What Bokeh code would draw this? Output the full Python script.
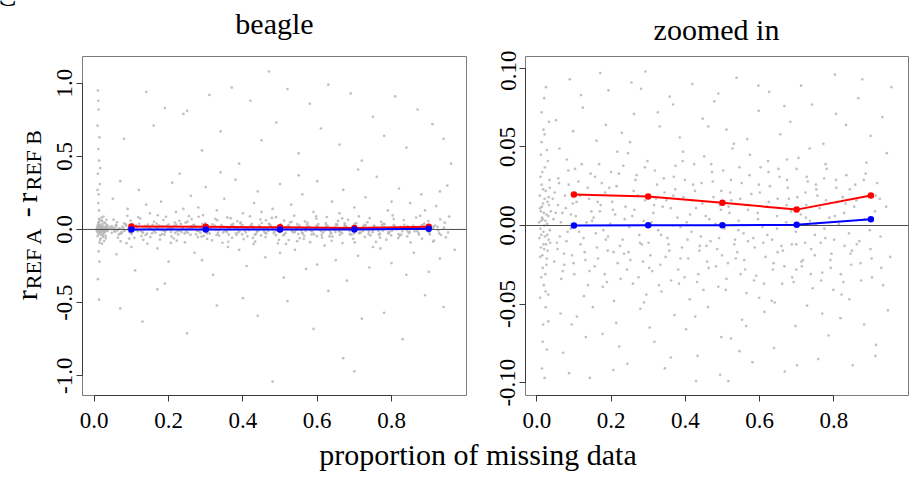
from bokeh.plotting import figure
from bokeh.layouts import row, column
from bokeh.models import Range1d, FixedTicker, NumeralTickFormatter, Span
from bokeh.core.properties import value
from bokeh.embed import file_html
from bokeh.resources import INLINE
import math

FONT = "Liberation Serif"

# ---- data ----
x_bins = [0.1, 0.3, 0.5, 0.7, 0.9]
ref_a_red = [0.0197, 0.0184, 0.0145, 0.0101, 0.0191]
ref_b_blue = [0.0000, 0.0001, 0.0002, 0.0004, 0.0040]

x_ticks = [0.0, 0.2, 0.4, 0.6, 0.8]
full_y_ticks = [-1.0, -0.5, 0.0, 0.5, 1.0]
zoom_y_ticks = [-0.10, -0.05, 0.0, 0.05, 0.10]

panel_titles = ["beagle", "zoomed in"]
x_label = "proportion of missing data"
y_label_parts = ["r", "REF A", "-", "r", "REF B"]

# background cloud of per-locus differences (hand-estimated positions)
cloud_pts = [
    # dense strip near zero missingness
    (0.012,0.003),(0.018,-0.004),(0.009,0.011),(0.025,-0.012),(0.031,0.006),(0.015,-0.019),(0.021,0.017),(0.007,-0.008),(0.028,0.001),(0.035,-0.003),
    (0.011,-0.014),(0.019,0.008),(0.024,0.022),(0.016,-0.027),(0.033,0.013),(0.008,0.019),(0.027,-0.021),(0.014,0.005),(0.022,-0.007),(0.038,0.009),
    (0.010,-0.002),(0.017,0.014),(0.029,-0.016),(0.013,0.026),(0.023,-0.031),(0.036,-0.011),(0.006,0.002),(0.020,0.000),(0.032,0.018),(0.026,-0.025),
    (0.015,0.034),(0.019,-0.038),(0.011,0.045),(0.024,-0.052),(0.030,0.041),(0.017,-0.063),(0.013,0.072),(0.027,-0.079),(0.021,0.058),(0.009,-0.046),
    (0.034,0.029),(0.012,-0.033),(0.018,0.061),(0.025,0.088),(0.014,-0.091),(0.031,-0.044),(0.022,0.037),(0.016,0.004),(0.028,-0.006),(0.011,0.009),
    (0.014,0.012),(0.020,-0.015),(0.026,0.007),(0.009,-0.020),(0.032,-0.009),(0.017,0.023),(0.023,0.003),(0.029,0.015),(0.012,-0.006),(0.035,0.024),
    (0.018,-0.012),(0.024,-0.042),(0.013,0.053),(0.031,-0.061),(0.020,0.081),(0.010,0.031),(0.027,0.048),(0.016,-0.074),(0.033,0.066),(0.021,-0.097),
    # core band
    (0.045,0.004),(0.062,-0.007),(0.078,0.011),(0.091,-0.002),(0.105,0.006),(0.118,-0.012),(0.134,0.002),(0.147,0.009),(0.159,-0.005),(0.172,0.013),
    (0.186,-0.009),(0.198,0.001),(0.211,0.007),(0.224,-0.013),(0.237,0.004),(0.249,-0.001),(0.263,0.010),(0.276,-0.006),(0.288,0.003),(0.301,-0.011),
    (0.314,0.008),(0.327,-0.003),(0.339,0.012),(0.352,-0.008),(0.366,0.000),(0.379,0.005),(0.391,-0.014),(0.404,0.002),(0.417,-0.004),(0.429,0.011),
    (0.442,-0.007),(0.455,0.006),(0.468,-0.010),(0.481,0.001),(0.493,0.013),(0.506,-0.002),(0.519,0.008),(0.532,-0.012),(0.544,0.003),(0.557,-0.005),
    (0.569,0.010),(0.583,-0.008),(0.596,0.004),(0.608,-0.001),(0.621,0.012),(0.634,-0.009),(0.647,0.006),(0.659,-0.013),(0.672,0.002),(0.685,0.009),
    (0.698,-0.004),(0.711,0.007),(0.723,-0.011),(0.736,0.003),(0.749,-0.006),(0.762,0.011),(0.775,-0.002),(0.788,0.005),(0.801,-0.009),(0.814,0.001),
    (0.828,0.008),(0.841,-0.005),(0.855,0.012),(0.869,-0.010),(0.883,0.004),(0.897,-0.003),(0.911,0.009),(0.926,-0.007),(0.054,-0.011),(0.069,0.008),
    (0.083,-0.004),(0.097,0.014),(0.126,-0.008),(0.153,0.005),(0.179,-0.003),(0.205,0.010),(0.231,-0.009),(0.257,0.006),(0.283,-0.012),(0.309,0.002),
    (0.335,-0.006),(0.361,0.011),(0.387,-0.001),(0.413,0.007),(0.439,-0.013),(0.465,0.004),(0.491,-0.008),(0.517,0.012),(0.543,-0.003),(0.569,-0.010),
    (0.595,0.008),(0.621,-0.006),(0.647,-0.002),(0.673,0.013),(0.699,-0.012),(0.725,0.005),(0.751,0.001),(0.777,-0.008),(0.803,0.006),(0.829,-0.013),
    # middle band
    (0.048,0.021),(0.066,-0.034),(0.081,0.042),(0.095,-0.019),(0.112,0.028),(0.127,-0.045),(0.141,0.017),(0.156,-0.026),(0.168,0.039),(0.183,-0.031),
    (0.195,0.024),(0.208,-0.048),(0.221,0.033),(0.235,-0.018),(0.246,0.046),(0.259,-0.037),(0.272,0.019),(0.286,-0.023),(0.298,0.041),(0.311,-0.029),
    (0.324,0.026),(0.336,-0.042),(0.349,0.016),(0.362,-0.035),(0.374,0.038),(0.387,-0.021),(0.399,0.029),(0.412,-0.047),(0.426,0.022),(0.438,-0.016),
    (0.451,0.044),(0.463,-0.027),(0.476,0.018),(0.489,-0.039),(0.502,0.035),(0.515,-0.024),(0.527,0.049),(0.540,-0.017),(0.552,0.027),(0.565,-0.043),
    (0.578,0.020),(0.591,-0.032),(0.603,0.037),(0.616,-0.020),(0.628,0.025),(0.641,-0.049),(0.654,0.031),(0.667,-0.026),(0.679,0.017),(0.692,-0.036),
    (0.705,0.043),(0.717,-0.022),(0.730,0.028),(0.743,-0.040),(0.756,0.019),(0.769,-0.030),(0.781,0.036),(0.794,-0.018),(0.807,0.024),(0.821,-0.044),
    (0.834,0.032),(0.847,-0.025),(0.861,0.016),(0.874,-0.035),(0.888,0.040),(0.902,-0.021),(0.917,0.027),(0.933,-0.038),(0.058,0.030),(0.074,-0.025),
    (0.103,0.036),(0.138,-0.038),(0.164,0.015),(0.191,-0.016),(0.217,0.047),(0.243,-0.028),(0.269,0.032),(0.295,-0.044),(0.321,0.017),(0.347,-0.020),
    (0.373,0.023),(0.398,-0.033),(0.424,0.039),(0.449,-0.041),(0.474,0.028),(0.499,-0.019),(0.524,0.016),(0.549,-0.031),(0.574,0.045),(0.599,-0.046),
    (0.624,0.034),(0.649,-0.017),(0.674,0.042),(0.699,-0.028),(0.724,0.021),(0.749,-0.019),(0.774,0.030),(0.799,-0.041),(0.824,0.018),(0.849,-0.016),
    (0.057,0.013),(0.073,-0.018),(0.086,0.026),(0.101,-0.031),(0.116,0.019),(0.131,-0.022),(0.145,0.033),(0.162,-0.014),(0.175,0.027),(0.189,-0.036),
    (0.203,0.015),(0.218,-0.024),(0.233,0.038),(0.247,-0.017),(0.261,0.022),(0.274,-0.033),(0.292,0.016),(0.306,-0.019),(0.318,0.035),(0.333,-0.025),
    (0.344,0.021),(0.357,-0.016),(0.369,0.031),(0.383,-0.037),(0.395,0.018),(0.408,-0.021),(0.421,0.026),(0.435,-0.031),(0.446,0.014),(0.459,-0.023),
    (0.472,0.034),(0.486,-0.015),(0.497,0.022),(0.511,-0.034),(0.523,0.029),(0.536,-0.021),(0.548,0.017),(0.561,-0.028),(0.573,0.032),(0.587,-0.014),
    (0.601,0.021),(0.612,-0.037),(0.625,0.015),(0.638,-0.024),(0.651,0.036),(0.663,-0.016),(0.676,0.024),(0.688,-0.033),(0.702,0.018),(0.714,-0.026),
    (0.727,0.031),(0.739,-0.015),(0.753,0.023),(0.766,-0.035),(0.779,0.016),(0.791,-0.022),(0.806,0.029),(0.819,-0.031),(0.832,0.014),(0.845,-0.018),
    (0.858,0.026),(0.872,-0.024),(0.886,0.033),(0.899,-0.015),(0.913,0.019),(0.928,-0.027),(0.941,0.012),(0.952,-0.020),
    (0.043,0.017),(0.047,-0.023),(0.051,0.008),(0.056,-0.015),(0.060,0.027),(0.065,0.002),(0.070,-0.029),(0.076,0.019),(0.080,-0.010),(0.085,0.035),
    (0.092,0.007),(0.099,-0.024),(0.107,0.015),(0.114,-0.004),(0.121,0.039),(0.129,-0.017),(0.137,0.024),(0.142,-0.029),(0.149,0.003),(0.157,0.031),
    (0.165,-0.021),(0.170,0.009),(0.178,-0.039),(0.184,0.021),(0.192,-0.007),(0.200,0.034),(0.207,-0.017),(0.215,0.025),(0.226,-0.034),(0.239,0.012),
    (0.252,-0.022),(0.266,0.029),(0.278,-0.011),(0.291,0.037),(0.303,-0.027),(0.316,0.013),(0.329,-0.038),(0.342,0.030),(0.355,-0.012),(0.368,0.019),
    (0.381,-0.028),(0.393,0.041),(0.406,-0.009),(0.419,0.016),(0.432,-0.036),(0.444,0.027),(0.457,-0.013),(0.470,0.039),(0.483,-0.026),(0.496,0.010),
    (0.509,-0.041),(0.521,0.021),(0.534,-0.009),(0.546,0.037),(0.559,-0.022),(0.572,0.013),(0.585,-0.035),(0.598,0.026),(0.610,-0.011),(0.623,0.041),
    (0.636,-0.028),(0.649,0.017),(0.661,-0.037),(0.674,0.029),(0.687,-0.012),(0.700,0.036),(0.713,-0.023),(0.726,0.013),(0.738,-0.031),(0.752,0.026),
    (0.765,-0.011),(0.778,0.039),(0.792,-0.027),(0.809,0.015),(0.826,-0.036),(0.843,0.023),(0.862,-0.012),(0.881,0.029),(0.903,-0.033),(0.924,0.017),
    # outer band of the zoomed view
    (0.052,0.067),(0.071,-0.081),(0.089,0.093),(0.108,-0.058),(0.124,0.075),(0.143,-0.097),(0.161,0.054),(0.177,-0.069),(0.193,0.086),(0.214,-0.062),
    (0.229,0.059),(0.244,-0.088),(0.262,0.071),(0.279,-0.053),(0.293,0.098),(0.317,-0.074),(0.331,0.063),(0.345,-0.091),(0.358,0.082),(0.371,-0.057),
    (0.385,0.056),(0.402,-0.066),(0.419,0.090),(0.433,-0.083),(0.447,0.068),(0.461,-0.052),(0.478,0.079),(0.494,-0.095),(0.511,0.061),(0.523,-0.072),
    (0.538,0.094),(0.553,-0.060),(0.567,0.055),(0.581,-0.087),(0.598,0.073),(0.613,-0.055),(0.626,0.085),(0.639,-0.078),(0.656,0.058),(0.668,-0.093),
    (0.683,0.066),(0.697,-0.064),(0.712,0.089),(0.728,-0.051),(0.741,0.077),(0.758,-0.085),(0.772,0.052),(0.786,-0.070),(0.803,0.096),(0.818,-0.059),
    (0.833,0.064),(0.851,-0.089),(0.866,0.081),(0.882,-0.063),(0.899,0.057),(0.914,-0.076),(0.931,0.069),(0.946,-0.054),(0.955,0.088),(0.064,-0.056),
    (0.098,0.060),(0.132,-0.071),(0.171,0.097),(0.206,-0.092),(0.251,0.053),(0.304,-0.065),(0.367,0.077),(0.429,-0.099),(0.489,0.084),(0.546,-0.080),
    (0.061,0.049),(0.094,-0.063),(0.119,0.083),(0.151,-0.052),(0.186,0.064),(0.222,-0.077),(0.255,0.091),(0.289,-0.049),(0.326,0.072),(0.361,-0.084),
    (0.394,0.047),(0.427,-0.058),(0.462,0.063),(0.497,-0.071),(0.531,0.052),(0.564,-0.064),(0.597,0.089),(0.633,-0.048),(0.667,0.076),(0.701,-0.089),
    (0.735,0.049),(0.769,-0.056),(0.806,0.071),(0.842,-0.047),(0.877,0.093),(0.912,-0.083),(0.943,0.046),(0.087,-0.094),(0.281,0.087),(0.516,-0.099),
    # wide spread, visible only in the full view
    (0.010,0.95),(0.012,0.82),(0.009,0.71),(0.014,0.63),(0.011,0.55),(0.013,0.47),(0.010,0.38),(0.015,0.31),(0.012,0.24),(0.011,0.18),
    (0.013,0.13),(0.012,-0.15),(0.014,-0.22),(0.010,-0.34),(0.013,-0.48),(0.011,0.88),(0.016,0.42),(0.009,0.27),
    (0.08,0.62),(0.14,0.94),(0.16,0.71),(0.19,0.83),(0.24,0.79),(0.25,0.81),(0.23,0.38),(0.29,0.54),(0.31,0.92),(0.34,0.67),
    (0.37,0.97),(0.39,0.45),(0.42,0.88),(0.45,0.61),(0.47,1.08),(0.49,0.73),(0.52,0.96),(0.55,0.52),(0.58,0.86),(0.61,0.69),
    (0.63,0.99),(0.66,0.58),(0.69,0.93),(0.72,0.47),(0.75,0.77),(0.78,0.64),(0.81,0.91),(0.84,0.56),(0.87,0.82),(0.91,0.72),
    (0.94,0.62),(0.96,0.45),
    (0.05,0.21),(0.09,0.14),(0.12,0.27),(0.15,0.11),(0.18,0.19),(0.21,0.32),(0.22,0.12),(0.26,0.23),(0.28,0.15),(0.30,0.29),
    (0.33,0.13),(0.35,0.21),(0.38,0.34),(0.40,0.11),(0.43,0.18),(0.44,0.26),(0.48,0.14),(0.50,0.31),(0.53,0.17),(0.56,0.24),
    (0.59,0.12),(0.60,0.33),(0.64,0.19),(0.67,0.27),(0.70,0.15),(0.73,0.22),(0.76,0.36),(0.79,0.13),(0.82,0.28),(0.85,0.18),
    (0.88,0.24),(0.92,0.16),(0.95,0.30),
    (0.07,0.33),(0.10,-0.12),(0.14,0.17),(0.19,-0.37),(0.24,0.14),(0.29,-0.21),(0.34,0.39),(0.39,-0.14),(0.45,0.12),(0.50,-0.16),
    (0.55,0.37),(0.60,-0.24),(0.66,0.11),(0.71,0.41),(0.75,-0.12),(0.80,0.19),(0.84,-0.31),(0.89,0.13),(0.93,0.26),(0.97,-0.14),
    (0.06,-0.17),(0.11,-0.28),(0.17,-0.13),(0.20,-0.22),(0.27,-0.16),(0.32,-0.31),(0.36,-0.12),(0.41,-0.25),(0.46,-0.19),(0.51,-0.33),
    (0.54,-0.14),(0.57,-0.27),(0.62,-0.11),(0.65,-0.21),(0.68,-0.35),(0.71,-0.18),(0.74,-0.26),(0.77,-0.13),(0.80,-0.23),(0.86,-0.16),
    (0.90,-0.29),(0.93,-0.20),
    (0.07,-0.54),(0.13,-0.63),(0.17,-0.41),(0.25,-0.71),(0.33,-0.52),(0.40,-0.47),(0.44,-0.59),(0.48,-1.04),(0.52,-0.49),(0.59,-0.68),
    (0.63,-0.42),(0.67,-0.88),(0.70,-0.97),(0.72,-0.61),(0.78,-0.57),(0.83,-0.75),(0.89,-0.45),(0.94,-0.53),
]
cloud_x = [p[0] for p in cloud_pts]
cloud_y = [p[1] for p in cloud_pts]


def strip(width, height):
    """A bare figure whose frame is the whole canvas, with pixel-sized ranges."""
    s = figure(width=width, height=height, x_range=Range1d(0, width), y_range=Range1d(0, height),
               x_axis_location=None, y_axis_location=None, min_border=0, title=None,
               output_backend="svg", toolbar_location=None)
    s.xgrid.visible = False
    s.ygrid.visible = False
    s.outline_line_color = None
    s.background_fill_color = "white"
    s.border_fill_color = "white"
    return s


def make_panel(width, height, bl, br, bt, bb, xr, yr, yticks, yfmt):
    p = figure(width=width, height=height, min_border_left=bl, min_border_right=br,
               min_border_top=bt, min_border_bottom=bb, title=None,
               x_range=Range1d(*xr), y_range=Range1d(*yr),
               output_backend="svg", toolbar_location=None)
    p.xgrid.visible = False
    p.ygrid.visible = False
    p.outline_line_color = "#7a7a7a"
    p.outline_line_width = 1
    p.background_fill_color = "white"
    p.border_fill_color = "white"
    for ax in (p.xaxis[0], p.yaxis[0]):
        ax.axis_line_color = "#3a3a3a"
        ax.major_tick_line_color = "#3a3a3a"
        ax.major_tick_out = 6
        ax.major_tick_in = 0
        ax.minor_tick_out = 0
        ax.minor_tick_in = 0
        ax.major_label_text_font = FONT
        ax.major_label_text_font_size = "23px"
        ax.major_label_text_color = "black"
    p.xaxis.ticker = FixedTicker(ticks=x_ticks)
    p.xaxis.bounds = (min(x_ticks), max(x_ticks))
    p.xaxis.formatter = NumeralTickFormatter(format="0.0")
    p.xaxis.major_label_standoff = 11
    p.yaxis.ticker = FixedTicker(ticks=yticks)
    p.yaxis.bounds = (min(yticks), max(yticks))
    p.yaxis.formatter = NumeralTickFormatter(format=yfmt)
    p.yaxis.major_label_orientation = "vertical"
    p.yaxis.major_label_standoff = 4

    p.scatter(cloud_x, cloud_y, size=2.7, fill_color="#b6b6b6", line_color=None, fill_alpha=0.85)
    p.add_layout(Span(location=0, dimension="width", line_color="#4a4a4a", line_width=1))
    p.line(x_bins, ref_a_red, line_color="#ff0000", line_width=2, level="overlay")
    p.scatter(x_bins, ref_a_red, size=6.5, fill_color="#ff0000", line_color=None, level="overlay")
    p.line(x_bins, ref_b_blue, line_color="#0000ff", line_width=2, level="overlay")
    p.scatter(x_bins, ref_b_blue, size=6.5, fill_color="#0000ff", line_color=None, level="overlay")
    return p


# Texts below are anchored at their vertical middle ("middle" baseline).
# ---- top strip (page rows 0-50): panel titles and the cropped panel letter ----
top = strip(912, 50)
top.text(x=[274, 716], y=[27, 21], text=panel_titles, text_align="center",
         text_baseline="middle", text_font=value(FONT), text_font_size="30px",
         text_color="black")
top.text(x=[-4], y=[55], text=["C"], text_align="left", text_baseline="middle",
         text_font=value(FONT), text_font_size="30px", text_color="black")

# ---- left strip (page rows 50-442): rotated y-axis label with subscripts ----
ylab = strip(44, 392)
ylab.text(x=[26, 32.5, 26, 26, 32.5], y=[110, 123, 206, 223, 237], text=y_label_parts,
          angle=math.pi / 2, text_align="left", text_baseline="middle",
          text_font=value(FONT), text_font_size=["30px", "22px", "30px", "30px", "22px"],
          text_color="black")

# ---- the two panels ----
p1 = make_panel(431, 392, 38, 9, 2, 47, (-0.0315, 1.0016), (-1.1352, 1.1824),
                full_y_ticks, "0.0")
p2 = make_panel(437, 392, 50, 4, 6, 43, (-0.0304, 1.0013), (-0.1082, 0.10755),
                zoom_y_ticks, "0.00")

# ---- bottom strip (page rows 442-477): shared x-axis label ----
bottom = strip(912, 35)
bottom.text(x=[477.5], y=[23], text=[x_label], text_align="center", text_baseline="middle",
            text_font=value(FONT), text_font_size="30px", text_color="black")

layout = column(top, row(ylab, p1, p2), bottom)
open("out.html", "w").write(file_html(layout, INLINE))
